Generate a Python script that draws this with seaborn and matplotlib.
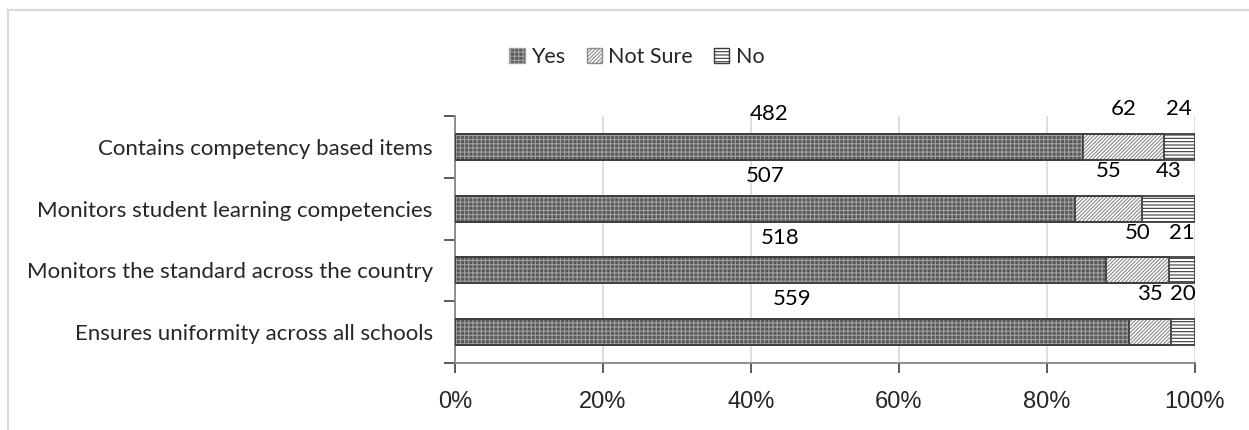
import matplotlib
matplotlib.use("Agg")
import matplotlib.pyplot as plt
import numpy as np
import pandas as pd
import seaborn as sns
from matplotlib.patches import Patch, Rectangle

# Survey responses per statement
categories = [
    "Contains competency based items",
    "Monitors student learning competencies",
    "Monitors the standard across the country",
    "Ensures uniformity across all schools",
]
series = ["Yes", "Not Sure", "No"]
yes_counts = [482, 507, 518, 559]
not_sure_counts = [62, 55, 50, 35]
no_counts = [24, 43, 21, 20]
x_ticks = [0, 20, 40, 60, 80, 100]

sns.set_theme(style="white")
plt.rcParams["font.family"] = ["Lato", "DejaVu Sans"]
plt.rcParams["hatch.linewidth"] = 0.8

df = pd.DataFrame({"category": categories, "Yes": yes_counts,
                   "Not Sure": not_sure_counts, "No": no_counts})
pct = df[series].div(df[series].sum(axis=1), axis=0) * 100
cum = pct.cumsum(axis=1)

# fill colour, hatch pattern, hatch colour, label lift above bar centre
styles = {
    "Yes": ("#585858", "++++", "#a0a0a0", 0.53),
    "Not Sure": ("#ffffff", "/////////", "#8a8a8a", 0.61),
    "No": ("#ffffff", "-----", "#3a3a3a", 0.61),
}

fig = plt.figure(figsize=(12.49, 4.30), dpi=100)
ax = fig.add_axes([455 / 1249, 1 - 363 / 430, 740 / 1249, (363 - 116) / 430])

# stacked bars: draw cumulative totals from the widest down
for s in reversed(series):
    face, hatch, hc, _ = styles[s]
    sns.barplot(x=cum[s], y=df["category"], orient="h", color=face,
                saturation=1, width=0.42, edgecolor=hc, linewidth=0.0,
                hatch=hatch, ax=ax)

for p in list(ax.patches):
    ax.add_patch(Rectangle(p.get_xy(), p.get_width(), p.get_height(),
                           fill=False, ec="#404040", lw=1.3, zorder=3))

# count labels centred over each segment
for i in range(len(categories)):
    for s in series:
        xc = cum.loc[i, s] - pct.loc[i, s] / 2
        ax.text(xc, i - styles[s][3], f"{df.loc[i, s]}", ha="center",
                va="center", fontsize=16, color="black")

ax.set_xlim(0, 100)
ax.set_ylim(3.5, -0.5)
ax.set_xticks(x_ticks)
ax.set_xticklabels([f"{v}%" for v in x_ticks], family="Liberation Sans",
                   fontsize=17)
ax.set_yticks(range(len(categories)))
ax.set_yticklabels(categories, fontsize=16)
ax.set_yticks(np.arange(-0.5, len(categories), 1.0), minor=True)
ax.tick_params(axis="y", which="major", length=0, pad=16)
ax.tick_params(axis="y", which="minor", length=8, width=1.2,
               color="#404040", direction="out", left=True)
ax.tick_params(axis="x", length=7, width=1.2, color="#404040",
               direction="out", bottom=True, pad=13)
ax.set_xlabel("")
ax.set_ylabel("")

ax.xaxis.grid(True, color="#d9d9d9", lw=1.2)
ax.yaxis.grid(False)
ax.set_axisbelow(True)
for side in ("top", "right"):
    ax.spines[side].set_visible(False)
for side in ("left", "bottom"):
    ax.spines[side].set_color("#868686")
    ax.spines[side].set_linewidth(1.3)

handles = [Patch(facecolor=styles[s][0], hatch=styles[s][1],
                 edgecolor=styles[s][2], label=s) for s in series]
fig.legend(handles=handles, loc="center", bbox_to_anchor=(637 / 1249, 1 - 57 / 430),
           ncol=3, frameon=False, fontsize=15.5, handlelength=0.7,
           handleheight=0.7, handletextpad=0.3, columnspacing=1.0)

fig.add_artist(Rectangle((8 / 1249, -0.5), 2.0, 1 - 9.5 / 430 + 0.5,
                         transform=fig.transFigure, fill=False,
                         ec="#d9d9d9", lw=1.6))

fig.savefig("out.png", dpi=100)
